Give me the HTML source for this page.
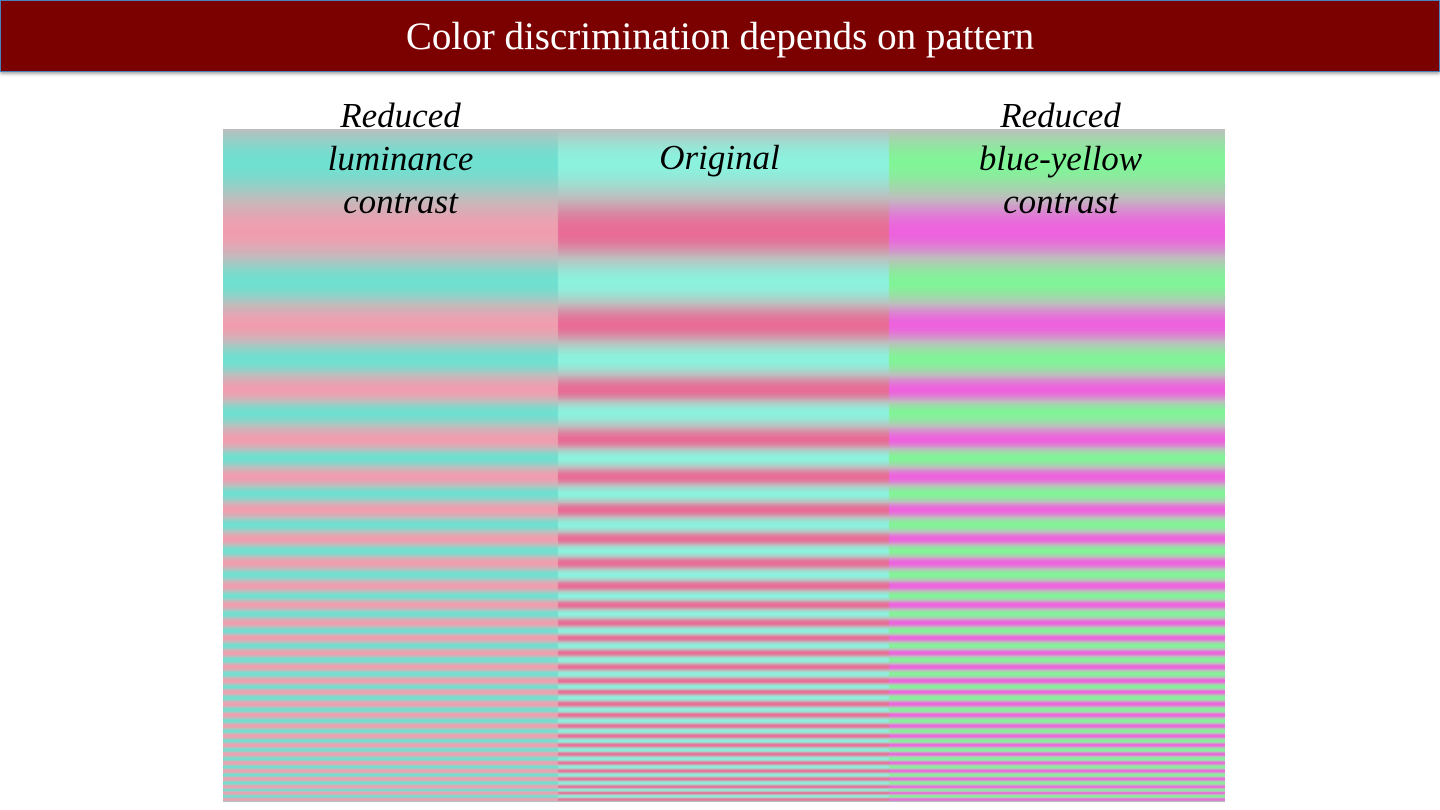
<!DOCTYPE html>
<html><head><meta charset="utf-8">
<style>
html,body{margin:0;padding:0;width:1440px;height:810px;background:#fff;overflow:hidden;position:relative;font-family:"Liberation Serif",serif}
#hdr{position:absolute;left:0;top:0;width:1438px;height:70px;background:#7b0000;border:1px solid #4a7fc0;box-shadow:0 2px 3px rgba(0,0,0,.35);color:#fff;font-size:39px;text-align:center;line-height:72px}
#cv{position:absolute;left:223px;top:129px}
.lbl{position:absolute;font-style:italic;font-size:35px;line-height:43px;text-align:center;color:#000;width:335px}
</style></head><body>
<div id="hdr">Color discrimination depends on pattern</div>
<canvas id="cv" width="1002" height="673"></canvas>
<div class="lbl" style="left:233px;top:94px">Reduced<br>luminance<br>contrast</div>
<div class="lbl" style="left:552px;top:136px">Original</div>
<div class="lbl" style="left:893px;top:94px">Reduced<br>blue-yellow<br>contrast</div>
<script>
// y positions (page px) of stripe-phase anchors: phase 0 = pink peak, 0.5 = cyan peak
const anchorY=[129,163,233,283,325,360,390,413,440,458,477,494,510,525,539,551,563,575,586,596,605,614,623,631,638,646,653,660,667,674,681,687,692,698,704,710,715,721,726,731,736,741,745,750,754,759,763,767,771,775,779,783,787,790,793,803];
const anchorPhase=[-0.75,-0.5,0,0.5,1,1.5,2,2.5,3,3.5,4,4.5,5,5.5,6,6.5,7,7.5,8,8.5,9,9.5,10,10.5,11,11.5,12,12.5,13,13.5,14,14.5,15,15.5,16,16.5,17,17.5,18,18.5,19,19.5,20,20.5,21,21.5,22,22.5,23,23.5,24,24.5,25,25.5,26,27.5];
const colNames=['reduced-luminance','original','reduced-blue-yellow'];
const pinkColors=[[240,158,175],[232,108,150],[238,98,222]];
const cyanColors=[[112,224,208],[140,242,222],[130,244,152]];
const grayColor=[190,190,190];
const cv=document.getElementById('cv'),ctx=cv.getContext('2d');
const colX=[0,335,666,1002];
function phaseAt(y){
  for(let i=0;i<anchorY.length-1;i++){
    if(y<=anchorY[i+1]){const t=(y-anchorY[i])/(anchorY[i+1]-anchorY[i]);return anchorPhase[i]+t*(anchorPhase[i+1]-anchorPhase[i]);}
  }
  return anchorPhase[anchorPhase.length-1];
}
for(let r=0;r<673;r++){
  const y=129+r+0.5;
  const s=Math.cos(2*Math.PI*phaseAt(y));
  for(let c=0;c<3;c++){
    const tgt=s>=0?pinkColors[c]:cyanColors[c],a=Math.abs(s);
    const col=grayColor.map((g,k)=>Math.round(g+(tgt[k]-g)*a));
    ctx.fillStyle='rgb('+col.join(',')+')';
    ctx.fillRect(colX[c],r,colX[c+1]-colX[c],1);
  }
}
</script>
</body></html>
